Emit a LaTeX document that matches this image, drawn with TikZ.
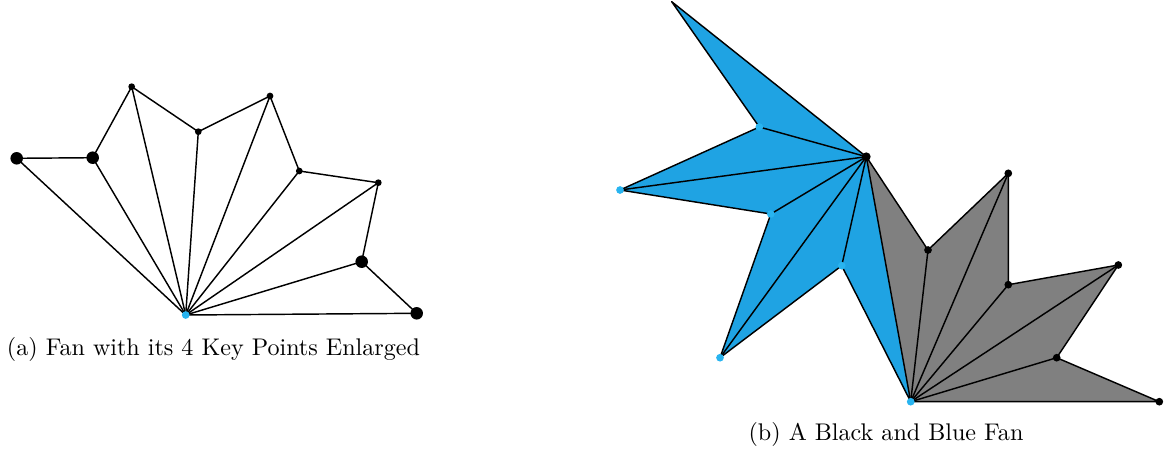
\documentclass[tikz,border=0pt]{standalone}
\usepackage{xcolor}
\definecolor{fanblue}{RGB}{31,163,227}
\definecolor{dotblue}{RGB}{40,180,240}
\definecolor{fangrey}{RGB}{128,128,128}
\begin{document}
\begin{tikzpicture}[x=0.415pt,y=-0.415pt,
  edge/.style={line width=0.6pt,black,line join=round},
  bigdot/.style={circle,fill=black,inner sep=0pt,minimum size=5.2pt},
  smalldot/.style={circle,fill=black,inner sep=0pt,minimum size=2.8pt},
  bdot/.style={circle,fill=dotblue,inner sep=0pt,minimum size=3.2pt},
  kdot/.style={circle,fill=black,inner sep=0pt,minimum size=3.2pt},
  captext/.style={font=\fontsize{10}{12}\selectfont,inner sep=0pt}]
\useasboundingbox (0,0) rectangle (1168,450);
% ---------- fan (a) ----------
\coordinate (a0) at (185.7,315);
\coordinate (a1) at (16.7,158.3);
\coordinate (a2) at (92.7,157.7);
\coordinate (a3) at (131.7,86.7);
\coordinate (a4) at (198.3,131.7);
\coordinate (a5) at (270,96);
\coordinate (a6) at (299.3,171);
\coordinate (a7) at (378.3,182.7);
\coordinate (a8) at (361.7,261.7);
\coordinate (a9) at (416.7,313.3);
\draw[edge] (a0) -- (a1) -- (a2) -- (a3) -- (a4) -- (a5) -- (a6) -- (a7) -- (a8) -- (a9) -- cycle;
\foreach \i in {2,...,8} \draw[edge] (a0) -- (a\i);
\node[bigdot] (da1) at (a1) {};
\node[bigdot] (da2) at (a2) {};
\node[smalldot] (da3) at (a3) {};
\node[smalldot] (da4) at (a4) {};
\node[smalldot] (da5) at (a5) {};
\node[smalldot] (da6) at (a6) {};
\node[smalldot] (da7) at (a7) {};
\node[bigdot] (da8) at (a8) {};
\node[bigdot] (da9) at (a9) {};
\node[bdot] (da0) at (a0) {};
\node[captext,anchor=west] (capa) at (6.5,349) {(a) Fan with its 4 Key Points Enlarged};
% ---------- fan (b) ----------
\coordinate (T) at (671.7,1.7);
\coordinate (B1) at (759.3,127);
\coordinate (A) at (866.3,156.7);
\coordinate (B2) at (620,190);
\coordinate (B3) at (770.8,214);
\coordinate (B4) at (841.7,265.7);
\coordinate (B5) at (720,357.7);
\coordinate (C) at (910.7,401.7);
\coordinate (G1) at (928,250);
\coordinate (G2) at (1008.3,173.3);
\coordinate (G3) at (1008.3,284.7);
\coordinate (G4) at (1118.3,265);
\coordinate (G5) at (1056.7,357.7);
\coordinate (G6) at (1159.3,401.7);
\fill[fanblue] (A) -- (T) -- (B1) -- (B2) -- (B3) -- (B5) -- (B4) -- (C) -- cycle;
\fill[fangrey] (C) -- (A) -- (G1) -- (G2) -- (G3) -- (G4) -- (G5) -- (G6) -- cycle;
\draw[edge] (A) -- (T) -- (B1) -- (B2) -- (B3) -- (B5) -- (B4) -- (C) -- cycle;
\draw[edge] (A) -- (G1) -- (G2) -- (G3) -- (G4) -- (G5) -- (G6) -- (C);
\foreach \p in {B1,B2,B3,B5,B4} \draw[edge] (A) -- (\p);
\foreach \p in {G1,G2,G3,G4,G5} \draw[edge] (C) -- (\p);
\node[kdot,minimum size=3.6pt] (dA) at (A) {};
\foreach \p in {G1,G2,G3,G4,G5,G6} \node[kdot] (d\p) at (\p) {};
\foreach \p in {B1,B2,B3,B4,B5,C} \node[bdot] (d\p) at (\p) {};
\node[captext] (capb) at (886,434) {(b) A Black and Blue Fan};
\end{tikzpicture}
\end{document}
